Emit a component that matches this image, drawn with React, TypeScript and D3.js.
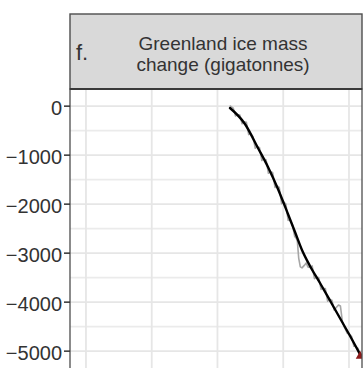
import React from "react";
import * as d3 from "d3";

// Monthly-ish GRACE / GRACE-FO mass anomaly (gigatonnes)
const rawYears = [2001.85, 2002.4, 2002.75, 2003.0, 2003.4, 2003.75, 2004.0, 2004.4, 2004.75, 2005.0, 2005.4, 2005.75, 2006.0, 2006.4, 2006.75, 2007.0, 2007.4, 2007.75, 2008.0, 2008.4, 2008.75, 2009.0, 2009.4, 2009.75, 2010.0, 2010.4, 2010.75, 2011.0, 2011.4, 2011.75, 2012.0, 2012.15, 2012.35, 2012.6, 2012.85, 2013.2, 2013.5, 2013.75, 2014.0, 2014.4, 2014.75, 2015.0, 2015.4, 2015.75, 2016.0, 2016.4, 2016.75, 2017.0, 2017.4, 2017.75, 2018.0, 2018.4, 2018.7, 2019.0, 2019.3, 2019.75, 2020.0, 2020.4, 2020.75, 2021.0, 2021.4, 2021.65];
const rawMass = [10, -40, -200, -170, -180, -360, -320, -330, -580, -560, -620, -860, -820, -850, -1110, -1070, -1100, -1370, -1330, -1360, -1660, -1620, -1660, -1990, -1950, -2000, -2330, -2320, -2420, -2660, -2700, -2760, -3100, -3280, -3300, -3250, -3200, -3280, -3290, -3260, -3520, -3500, -3500, -3740, -3720, -3720, -3980, -3940, -3960, -4160, -4120, -4060, -4080, -4400, -4510, -4640, -4640, -4700, -4900, -4900, -4950, -5070];

// Smoothed trend
const trendYears = [2001.9, 2004.18, 2006.16, 2007.68, 2009.2, 2010.72, 2011.79, 2012.85, 2014.07, 2015.59, 2017.41, 2019.09, 2020.46, 2021.7];
const trendMass = [-38, -364, -854, -1242, -1691, -2201, -2568, -2936, -3262, -3609, -4038, -4436, -4762, -5070];

const xGridYears = [1980, 1990, 2000, 2010, 2020];
const yTicks = [0, -1000, -2000, -3000, -4000, -5000];
const yMinor = [-500, -1500, -2500, -3500, -4500];

const stripLines = ["Greenland ice mass", "change (gigatonnes)"];
const panelTag = "f.";

const W = 363;
const H = 368;
const left = 70;
const right = 362;
const stripTop = 14;
const panelTop = 89;
const panelBottom = 372;

const FONT = "'Liberation Sans', Arial, Helvetica, sans-serif";

export default function App() {
  const x = d3.scaleLinear().domain([1977.57, 2021.98]).range([left, right]);
  const y = d3.scaleLinear().domain([350, -5400]).range([panelTop, panelTop + 5750 * 0.049]);
  const fmt = d3.format("d");

  const raw = rawYears.map((t, i) => [t, rawMass[i]] as [number, number]);
  const trend = trendYears.map((t, i) => [t, trendMass[i]] as [number, number]);

  const rawLine = d3
    .line<[number, number]>()
    .x((d) => x(d[0]))
    .y((d) => y(d[1]));
  const trendLine = d3
    .line<[number, number]>()
    .x((d) => x(d[0]))
    .y((d) => y(d[1]))
    .curve(d3.curveMonotoneX);

  const last = trend[trend.length - 1];
  const tri = d3.symbol().type(d3.symbolTriangle).size(34)();

  return (
    <svg
      width={W}
      height={H}
      viewBox={`0 0 ${W} ${H}`}
      style={{ position: "absolute", left: 0, top: 0, background: "#fff" }}
    >
      <defs>
        <clipPath id="panel-clip">
          <rect x={left} y={panelTop} width={right - left} height={panelBottom - panelTop} />
        </clipPath>
      </defs>
      <rect x={0} y={0} width={W} height={H} fill="#fff" />

      {/* panel grid */}
      <g clipPath="url(#panel-clip)">
        {yMinor.map((v) => (
          <line key={`ym${v}`} x1={left} x2={right} y1={y(v)} y2={y(v)} stroke="#ebebeb" strokeWidth={1.6} />
        ))}
        {yTicks.map((v) => (
          <line key={`yM${v}`} x1={left} x2={right} y1={y(v)} y2={y(v)} stroke="#e6e6e6" strokeWidth={1.8} />
        ))}
        {xGridYears.map((v) => (
          <line key={`x${v}`} x1={x(v)} x2={x(v)} y1={panelTop} y2={panelBottom} stroke="#e6e6e6" strokeWidth={1.8} />
        ))}
        <path d={rawLine(raw) || ""} fill="none" stroke="#a6a6a6" strokeWidth={1.6} strokeLinejoin="round" />
        <path d={trendLine(trend) || ""} fill="none" stroke="#000" strokeWidth={2.4} strokeLinecap="round" />
        <path d={tri} transform={`translate(${x(last[0])},${y(last[1]) + 1.5})`} fill="#8b1a1a" />
      </g>

      {/* panel border */}
      <rect x={left} y={panelTop} width={right - left} height={panelBottom - panelTop} fill="none" stroke="#4d4d4d" strokeWidth={1.3} />

      {/* strip */}
      <rect x={left} y={stripTop} width={right - left} height={panelTop - stripTop} fill="#d9d9d9" stroke="#4d4d4d" strokeWidth={1.4} />
      <line x1={left} x2={right} y1={panelTop} y2={panelTop} stroke="#3a3a3a" strokeWidth={2} />
      <text x={76} y={60} fontFamily={FONT} fontSize={22} fill="#333">
        {panelTag}
      </text>
      {stripLines.map((s, i) => (
        <text key={s} x={223} y={50 + i * 21} textAnchor="middle" fontFamily={FONT} fontSize={19} fill="#333">
          {s}
        </text>
      ))}

      {/* y axis */}
      {yTicks.map((v) => (
        <g key={`t${v}`}>
          <line x1={64} x2={left} y1={y(v)} y2={y(v)} stroke="#333" strokeWidth={1.5} />
          <text x={62} y={y(v)} dy="0.42em" textAnchor="end" fontFamily={FONT} fontSize={20} fill="#333">
            {fmt(v)}
          </text>
        </g>
      ))}
    </svg>
  );
}
